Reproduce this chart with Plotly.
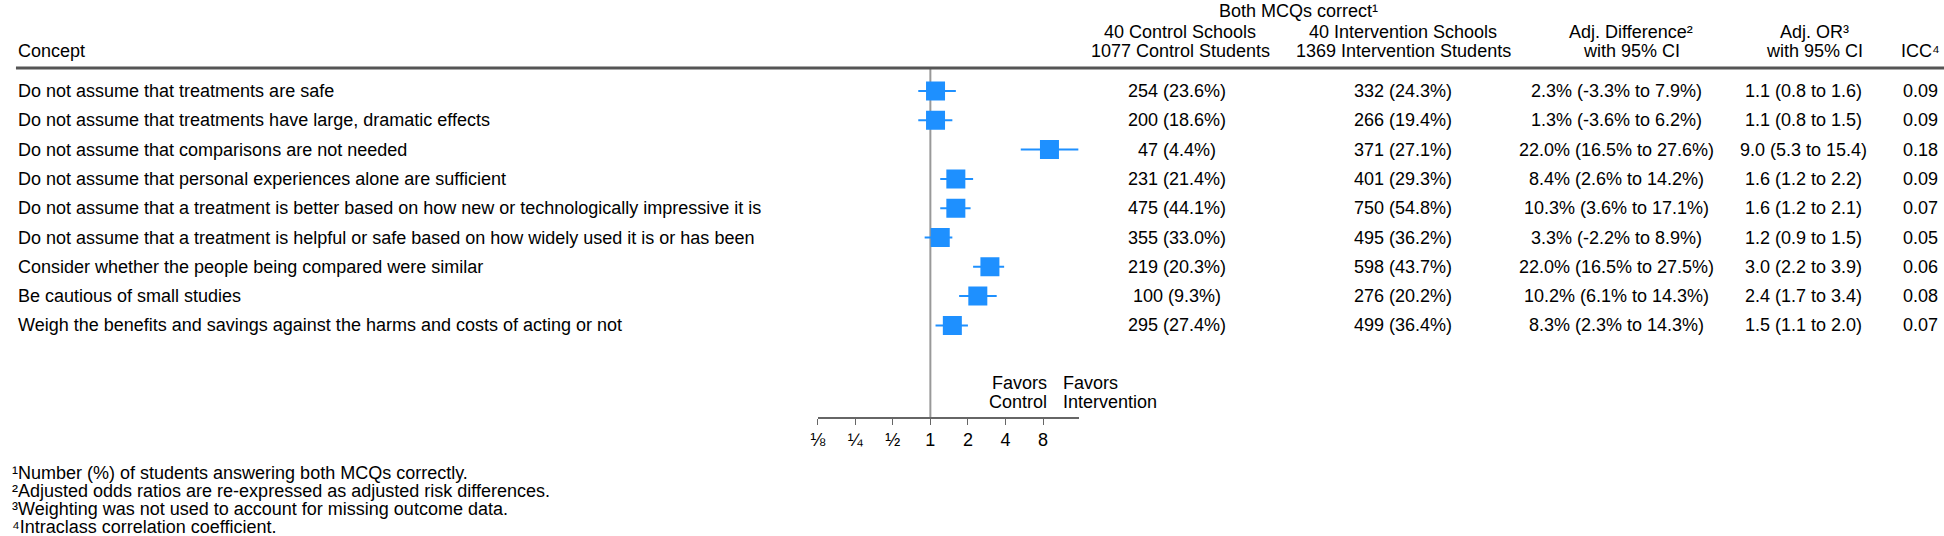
import math
import plotly.graph_objects as go

concepts = [
    "Do not assume that treatments are safe",
    "Do not assume that treatments have large, dramatic effects",
    "Do not assume that comparisons are not needed",
    "Do not assume that personal experiences alone are sufficient",
    "Do not assume that a treatment is better based on how new or technologically impressive it is",
    "Do not assume that a treatment is helpful or safe based on how widely used it is or has been",
    "Consider whether the people being compared were similar",
    "Be cautious of small studies",
    "Weigh the benefits and savings against the harms and costs of acting or not",
]
control_n = [254, 200, 47, 231, 475, 355, 219, 100, 295]
control_pct = [23.6, 18.6, 4.4, 21.4, 44.1, 33.0, 20.3, 9.3, 27.4]
intervention_n = [332, 266, 371, 401, 750, 495, 598, 276, 499]
intervention_pct = [24.3, 19.4, 27.1, 29.3, 54.8, 36.2, 43.7, 20.2, 36.4]
adj_diff = [2.3, 1.3, 22.0, 8.4, 10.3, 3.3, 22.0, 10.2, 8.3]
diff_low = [-3.3, -3.6, 16.5, 2.6, 3.6, -2.2, 16.5, 6.1, 2.3]
diff_high = [7.9, 6.2, 27.6, 14.2, 17.1, 8.9, 27.5, 14.3, 14.3]
odds_ratio = [1.1, 1.1, 9.0, 1.6, 1.6, 1.2, 3.0, 2.4, 1.5]
or_low = [0.8, 0.8, 5.3, 1.2, 1.2, 0.9, 2.2, 1.7, 1.1]
or_high = [1.6, 1.5, 15.4, 2.2, 2.1, 1.5, 3.9, 3.4, 2.0]
icc = [0.09, 0.09, 0.18, 0.09, 0.07, 0.05, 0.06, 0.08, 0.07]

tick_vals = [1 / 8, 1 / 4, 1 / 2, 1, 2, 4, 8]
tick_text = ["⅛", "¼", "½", "1", "2", "4", "8"]

footnotes = [
    "¹Number (%) of students answering both MCQs correctly.",
    "²Adjusted odds ratios are re-expressed as adjusted risk differences.",
    "³Weighting was not used to account for missing outcome data.",
    "⁴Intraclass correlation coefficient.",
]

W, H = 1944, 536
FONT = "Liberation Sans, Arial, Helvetica, sans-serif"
BLUE = "#1e90ff"
rows = list(range(1, len(concepts) + 1))

# pixel layout
row1_px, row_step = 91, 29.3
axis_px = 417
rule_px = 68


def px(x):
    return x / W


def py(y):
    return 1 - y / H


def row_at(y):
    return 1 + (y - row1_px) / row_step


fig = go.Figure()

ci_x, ci_y = [], []
for r, lo, hi in zip(rows, or_low, or_high):
    ci_x += [lo, hi, None]
    ci_y += [r, r, None]

fig.add_trace(go.Scatter(x=ci_x, y=ci_y, mode="lines",
                         line=dict(color=BLUE, width=2), hoverinfo="skip"))
fig.add_trace(go.Scatter(x=odds_ratio, y=rows, mode="markers",
                         marker=dict(symbol="square", size=19, color=BLUE)))

annotations = []


def txt(x, y, text, anchor="center", yref="paper", size=18):
    annotations.append(dict(x=x, y=y, xref="paper", yref=yref, text=text,
                            showarrow=False, xanchor=anchor, yanchor="middle",
                            font=dict(size=size, color="black", family=FONT)))


# header
txt(px(1296), py(11), "Both MCQs correct¹")
txt(px(1177), py(32), "40 Control Schools")
txt(px(1177), py(51), "1077 Control Students")
txt(px(1401), py(32), "40 Intervention Schools")
txt(px(1401), py(51), "1369 Intervention Students")
txt(px(1630), py(32), "Adj. Difference²")
txt(px(1630), py(51), "with 95% CI")
txt(px(1814), py(32), "Adj. OR³")
txt(px(1814), py(51), "with 95% CI")
txt(px(1920), py(51), "ICC⁴")
txt(px(8), py(51), "Concept", anchor="left")

for i, r in enumerate(rows):
    txt(px(8), r, concepts[i], anchor="left", yref="y")
    txt(px(1174), r, f"{control_n[i]} ({control_pct[i]:.1f}%)", yref="y")
    txt(px(1401), r, f"{intervention_n[i]} ({intervention_pct[i]:.1f}%)", yref="y")
    txt(px(1615), r,
        f"{adj_diff[i]:.1f}% ({diff_low[i]:.1f}% to {diff_high[i]:.1f}%)", yref="y")
    txt(px(1803), r,
        f"{odds_ratio[i]:.1f} ({or_low[i]:.1f} to {or_high[i]:.1f})", yref="y")
    txt(px(1920), r, f"{icc[i]:.2f}", yref="y")

# favors labels either side of the no-effect line
for k, (left, right) in enumerate([("Favors", "Favors"), ("Control", "Intervention")]):
    y = py(383 + 19 * k)
    annotations.append(dict(x=1, y=y, xref="x", yref="paper", text=left, showarrow=False,
                            xanchor="right", xshift=-6, yanchor="middle",
                            font=dict(size=18, color="black", family=FONT)))
    annotations.append(dict(x=1, y=y, xref="x", yref="paper", text=right, showarrow=False,
                            xanchor="left", xshift=6, yanchor="middle",
                            font=dict(size=18, color="black", family=FONT)))

for k, note in enumerate(footnotes):
    txt(px(2), py(473 + 18 * k), note, anchor="left", size=18)

fig.update_layout(
    width=W,
    height=H,
    margin=dict(l=0, r=0, t=0, b=0),
    paper_bgcolor="white",
    plot_bgcolor="white",
    showlegend=False,
    hovermode=False,
    font=dict(family=FONT, size=18, color="black"),
    annotations=annotations,
    xaxis=dict(
        type="log",
        range=[math.log10(1 / 8), math.log10(max(or_high))],
        domain=[px(813), px(1075)],
        tickvals=tick_vals,
        ticktext=tick_text,
        ticks="outside",
        ticklen=6,
        tickcolor="#666666",
        showline=True,
        linecolor="#666666",
        linewidth=1.5,
        showgrid=False,
        zeroline=False,
        tickfont=dict(size=18, color="black"),
    ),
    yaxis=dict(
        visible=False,
        range=[row_at(axis_px), row_at(0)],
        domain=[1 - axis_px / H, 1],
    ),
    shapes=[
        dict(type="line", xref="paper", yref="paper", x0=px(8), x1=1,
             y0=py(rule_px), y1=py(rule_px), line=dict(color="#555555", width=3)),
        dict(type="line", xref="x", yref="paper", x0=1, x1=1,
             y0=py(axis_px), y1=py(rule_px + 1), line=dict(color="#999999", width=2),
             layer="below"),
    ],
)

fig.write_html("out.html", config={"displayModeBar": False},
               post_script="document.body.style.margin = '0';")
